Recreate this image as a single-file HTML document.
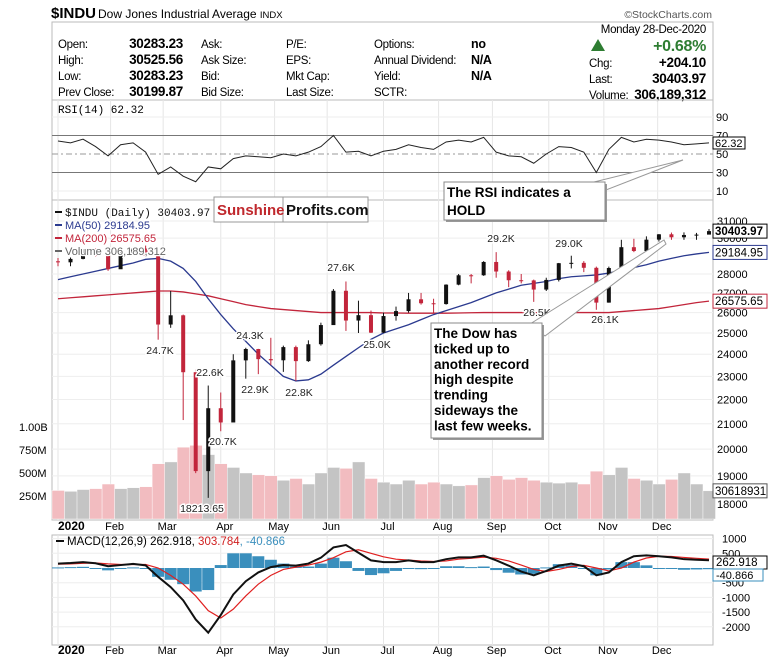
<!DOCTYPE html>
<html><head><meta charset="utf-8"><style>
body{margin:0;background:#fff;}
svg{display:block;font-family:"Liberation Sans Narrow","Liberation Sans",sans-serif;}
</style></head><body>
<svg id="c" width="768" height="662" viewBox="0 0 768 662">
<rect x="0" y="0" width="768" height="662" fill="#fff"/>
<g>
<text x="51" y="18" font-size="15" font-weight="bold">$INDU</text>
<text x="98" y="18" font-size="12">Dow Jones Industrial Average <tspan font-size="9.5">INDX</tspan></text>
<text x="712" y="18" font-size="10.5" fill="#555" text-anchor="end">©StockCharts.com</text>
<rect x="52" y="22" width="661" height="78" fill="none" stroke="#bbb"/>
<g font-size="11.5" letter-spacing="-0.3">
<text x="58" y="48">Open:</text><text x="58" y="64">High:</text><text x="58" y="80">Low:</text><text x="58" y="96">Prev Close:</text>
<g font-weight="bold" font-size="13.5" text-anchor="end"><text x="183" y="48">30283.23</text><text x="183" y="64">30525.56</text><text x="183" y="80">30283.23</text><text x="183" y="96">30199.87</text></g>
<text x="201" y="48">Ask:</text><text x="201" y="64">Ask Size:</text><text x="201" y="80">Bid:</text><text x="201" y="96">Bid Size:</text>
<text x="286" y="48">P/E:</text><text x="286" y="64">EPS:</text><text x="286" y="80">Mkt Cap:</text><text x="286" y="96">Last Size:</text>
<text x="374" y="48">Options:</text><text x="374" y="64">Annual Dividend:</text><text x="374" y="80">Yield:</text><text x="374" y="96">SCTR:</text>
<g font-weight="bold" font-size="12.5"><text x="471" y="48">no</text><text x="471" y="64">N/A</text><text x="471" y="80">N/A</text></g>
<text x="706" y="33" text-anchor="end">Monday  28-Dec-2020</text>
<path d="M591,51 L598,39 L605,51 Z" fill="#2e7d32"/>
<text x="706" y="51" text-anchor="end" font-size="16" font-weight="bold" fill="#2e7d32">+0.68%</text>
<text x="589" y="67">Chg:</text><text x="589" y="83">Last:</text><text x="589" y="99">Volume:</text>
<g font-weight="bold" font-size="13.5" text-anchor="end"><text x="706" y="67">+204.10</text><text x="706" y="83">30403.97</text><text x="706" y="99">306,189,312</text></g>
</g>
</g>
<g id="grid"></g>
<g id="rsi"></g>
<g id="price"></g>
<g id="macd"></g>
<g id="ann"></g>
</svg>
<script>
const opens=[28690,28634,28823,29348,28989,28256,29102,29398,28992,25409,25864,23186,19174,21636,21052,23719,24242,23775,23723,24331,23685,24465,25383,27111,25605,25871,25016,25827,26075,26672,26469,26428,27433,27931,27930,28654,28133,27666,27657,27174,27683,28587,28606,28335,26502,28323,29479,29263,29910,30218,30046,30179,30200];
const highs=[28870,28900,29374,29410,29150,29410,29440,29570,28992,27100,25900,23300,22600,22300,24000,24300,24250,24770,24400,24400,24650,25500,27200,27600,26600,26100,26000,26300,27000,27000,26700,27450,28000,28000,28700,29200,28200,28000,27700,27800,28600,29000,28700,28400,28400,29900,29960,30100,30230,30320,30330,30300,30526];
const lows=[28420,28420,28800,28950,28170,28300,29050,28960,24680,25250,21150,19100,18214,20700,21100,22900,23100,23500,23200,22800,23650,24400,25400,25100,25000,25000,25000,25600,26000,26400,26000,26400,27400,27500,27900,27800,27300,27500,26540,27100,27600,28300,28100,26140,26500,28300,29200,29250,29800,29900,29900,29900,30283];
const closes=[28634,28823,29348,28989,28256,29102,29398,28992,25409,25864,23186,19174,21636,21052,23719,24242,23775,23723,24331,23685,24465,25383,27111,25605,25871,25016,25827,26075,26672,26469,26428,27433,27931,27930,28654,28133,27666,27657,27174,27683,28587,28606,28335,26502,28323,29479,29263,29910,30218,30046,30179,30200,30404];
const ma50=[27700,27850,28000,28150,28300,28450,28600,28800,28850,28700,28300,27600,26700,25900,25200,24600,24000,23500,23000,22800,22850,23100,23500,23900,24300,24700,25000,25200,25400,25650,25900,26100,26300,26500,26750,27000,27200,27400,27500,27600,27750,27850,27900,27950,28050,28200,28350,28500,28700,28850,29000,29100,29185];
const ma200=[26700,26750,26800,26850,26900,26950,27000,27050,27100,27100,27050,26950,26850,26700,26550,26400,26300,26200,26150,26100,26050,26000,26000,26000,26000,26000,25980,25980,25970,25970,25970,25970,25980,25990,26000,26000,26000,26000,25990,25990,26000,26000,26000,26000,26000,26050,26100,26150,26200,26300,26400,26500,26576];
const volumes=[310,300,320,330,380,330,340,350,600,620,780,800,700,600,560,500,480,470,420,440,380,500,560,550,620,440,400,380,420,380,400,380,360,370,450,470,430,450,420,400,390,400,380,520,480,560,440,420,380,430,500,380,306];
const rsi=[64,62,66,58,48,60,62,52,28,36,26,20,36,34,45,48,47,46,50,48,52,58,70,52,53,48,53,55,60,57,55,63,65,63,68,52,48,47,40,50,58,57,52,30,55,68,63,66,65,63,60,61,62];
const macdLine=[150,170,200,160,60,100,140,90,-300,-650,-1100,-1750,-2200,-1600,-900,-450,-150,30,100,80,150,350,700,780,520,260,200,200,260,200,200,300,360,360,420,260,80,-120,-250,-100,80,150,60,-250,-150,200,400,430,400,360,300,280,263];
const signalLine=[130,140,160,170,140,120,120,120,0,-250,-550,-950,-1450,-1700,-1400,-950,-550,-250,-50,30,100,200,350,550,620,500,380,300,270,240,220,240,300,330,370,330,240,100,-50,-120,-50,50,90,0,-100,0,200,340,400,390,360,330,304];
const months=["2020","Feb","Mar","Apr","May","Jun","Jul","Aug","Sep","Oct","Nov","Dec"];
const monthIdx=[0,4.2,8.4,13,17.3,21.5,26,30.4,34.7,39.2,43.6,47.9];
const priceTicks=[31000,30000,28000,27000,26000,25000,24000,23000,22000,21000,20000,19000,18000];
const volTicks=[1000,750,500,250];
const volTickLabels=["1.00B","750M","500M","250M"];
const rsiTicks=[90,70,50,30,10];
const macdTicks=[1000,500,-500,-1000,-1500,-2000];

const NS="http://www.w3.org/2000/svg";
const X0=58,X1=709,L=52,R=713;
const xs=i=>X0+i*(X1-X0)/(closes.length-1);
const yP=p=>221+520.6*Math.log(31000/p);
const yV=v=>519-v*0.092;
const yR=v=>117+(90-v)*0.925;
const yM=v=>568-v*0.0294;
function el(tag,attrs,parent,txt){const e=document.createElementNS(NS,tag);for(const k in attrs)e.setAttribute(k,attrs[k]);if(txt!==undefined)e.textContent=txt;parent.appendChild(e);return e;}
const grid=document.getElementById('grid'),rsiG=document.getElementById('rsi'),pG=document.getElementById('price'),mG=document.getElementById('macd'),ann=document.getElementById('ann');

[[100,200],[200,520],[535,645]].forEach(([a,b])=>{el('rect',{x:L,y:a,width:R-L,height:b-a,fill:'none',stroke:'#bbb'},grid);});
monthIdx.forEach(m=>{const x=xs(m);[[100,520],[535,645]].forEach(([a,b])=>el('line',{x1:x,x2:x,y1:a,y2:b,stroke:'#e6e6e6'},grid));});
months.forEach((m,i)=>{[530,654].forEach(y=>{const t=el('text',{x:xs(monthIdx[i])+(i?4:0),y:y,'font-size':i?11:12,'font-weight':i?'normal':'bold','text-anchor':i?'middle':'start'},grid,m);

});});

rsiTicks.forEach(v=>{const y=yR(v);
if(v===70||v===30)el('line',{x1:L,x2:R,y1:y,y2:y,stroke:'#777'},rsiG);
else if(v===50)el('line',{x1:L,x2:R,y1:y,y2:y,stroke:'#999','stroke-dasharray':'6,3,2,3'},rsiG);
else el('line',{x1:L,x2:R,y1:y,y2:y,stroke:'#eee'},rsiG);
const t=el('text',{x:716,y:y+4,'font-size':11},rsiG,v);

});
const rp=el('polyline',{points:rsi.map((v,i)=>xs(i)+','+yR(v)).join(' '),fill:'none',stroke:'#222','stroke-width':1},rsiG);


el('text',{x:58,y:113,'font-size':11,'font-family':'Liberation Mono,monospace'},rsiG,'RSI(14) 62.32');
el('rect',{x:713,y:137,width:32,height:12,fill:'#fff',stroke:'#000'},rsiG);
el('text',{x:715,y:147,'font-size':11},rsiG,'62.32');

priceTicks.forEach(p=>{const y=yP(p);el('line',{x1:L,x2:R,y1:y,y2:y,stroke:'#eee'},pG);
const t=el('text',{x:717,y:y+4,'font-size':11},pG,p);

});
volTicks.forEach((v,i)=>{const t=el('text',{x:19,y:yV(v)+4,'font-size':11},pG,volTickLabels[i]);

});
volumes.forEach((v,i)=>{const up=closes[i]>=opens[i];const b=el('rect',{x:xs(i)-6,y:yV(v),width:12.5,height:519-yV(v),fill:up?'#c4c4c4':'#f2bcc0',stroke:'#fff','stroke-width':0.4},pG);

});
const m200=el('polyline',{points:ma200.map((v,i)=>xs(i)+','+yP(v)).join(' '),fill:'none',stroke:'#c2253b','stroke-width':1.3},pG);


const m50=el('polyline',{points:ma50.map((v,i)=>xs(i)+','+yP(v)).join(' '),fill:'none',stroke:'#2b3a8f','stroke-width':1.3},pG);


closes.forEach((c,i)=>{const o=opens[i],x=xs(i),up=c>=o,col=up?'#111':'#c2253b';
const w=el('line',{x1:x,x2:x,y1:yP(highs[i]),y2:yP(lows[i]),stroke:col,'stroke-width':1},pG);


const top=yP(Math.max(o,c)),bot=yP(Math.min(o,c));
const b=el('rect',{x:x-2,y:top,width:4,height:Math.max(1,bot-top),fill:col},pG);

});
const lg=[["$INDU (Daily) 30403.97","#111",216,'Liberation Mono,monospace'],["MA(50) 29184.95","#2b3a8f",229,''],["MA(200) 26575.65","#c2253b",242,''],["Volume 306,189,312","#666",255,'']];
lg.forEach(([t,c,y,f])=>{el('rect',{x:55,y:y-5,width:7,height:2,fill:c},pG);const tt=el('text',{x:65,y:y,'font-size':11,fill:c,stroke:'#fff','stroke-width':2.5,'paint-order':'stroke'},pG,t);if(f)tt.setAttribute('font-family',f);

});
[["30403.97",yP(30404),'#000',true],["29184.95",yP(29185),'#2b3a8f',false],["26575.65",yP(26576),'#c2253b',false],["30618931",yV(306),'#555',false]].forEach(([t,y,c,b])=>{el('rect',{x:713,y:y-7,width:54,height:14,fill:'#fff',stroke:c},pG);el('text',{x:715,y:y+4,'font-size':11.5,'font-weight':b?'bold':'normal'},pG,t);});
[["27.6K",341,271],["29.2K",501,242],["29.0K",569,247],["24.7K",160,354],["24.3K",250,339],["22.6K",210,376],["22.9K",255,393],["22.8K",299,396],["25.0K",377,348],["26.5K",537,316],["26.1K",605,323],["20.7K",223,445],["18213.65",202,512]].forEach(([t,x,y])=>{
const l=el('text',{x:x,y:y,'font-size':10.5,'text-anchor':'middle',fill:'#222',stroke:'#fff','stroke-width':3,'paint-order':'stroke'},pG,t);

});

macdTicks.forEach(v=>{const y=yM(v);el('line',{x1:L,x2:R,y1:y,y2:y,stroke:'#eee'},mG);el('text',{x:722,y:y+4,'font-size':11},mG,v);});
macdLine.forEach((v,i)=>{const h=v-signalLine[i];const y0=yM(0),y=yM(h);
const b=el('rect',{x:xs(i)-6,y:Math.min(y0,y),width:12,height:Math.max(1,Math.abs(y-y0)),fill:'#3a8fbd'},mG);

});
const sp=el('polyline',{points:signalLine.map((v,i)=>xs(i)+','+yM(v)).join(' '),fill:'none',stroke:'#e02020','stroke-width':1.2},mG);


const mp=el('polyline',{points:macdLine.map((v,i)=>xs(i)+','+yM(v)).join(' '),fill:'none',stroke:'#111','stroke-width':2},mG);


el('rect',{x:56,y:540,width:8,height:2,fill:'#111'},mG);
const mt=el('text',{x:67,y:545,'font-size':11.5},mG);
el('tspan',{},mt,'MACD(12,26,9) 262.918, ');el('tspan',{fill:'#d02020'},mt,'303.784');el('tspan',{fill:'#3a8fbd'},mt,', -40.866');
el('rect',{x:713,y:556,width:54,height:13,fill:'#fff',stroke:'#000'},mG);el('text',{x:716,y:566,'font-size':11.5},mG,'262.918');
el('rect',{x:713,y:569,width:50,height:12,fill:'#fff',stroke:'#3a8fbd'},mG);el('text',{x:716,y:579,'font-size':11},mG,'-40.866');

const sh=el('g',{},ann);


el('rect',{x:214,y:197,width:154,height:25,fill:'#fff',stroke:'#999'},sh);
el('line',{x1:283,x2:283,y1:197,y2:222,stroke:'#999'},sh);
el('text',{x:217,y:215,'font-size':15,'font-weight':'bold',fill:'#c0282d'},sh,'Sunshine');
el('text',{x:286,y:215,'font-size':15,'font-weight':'bold',fill:'#111'},sh,'Profits.com');
el('polygon',{points:'590,183 683,160 606,190',fill:'#fff',stroke:'#999'},ann);
const c1=el('g',{},ann);


el('rect',{x:446,y:184,width:161,height:38,fill:'#999'},c1);
el('rect',{x:444,y:182,width:161,height:38,fill:'#fff',stroke:'#888'},c1);
el('text',{x:447,y:197,'font-size':13.5,'font-weight':'bold'},c1,'The RSI indicates a');
el('text',{x:447,y:215,'font-size':13.5,'font-weight':'bold'},c1,'HOLD');
el('polygon',{points:'530,324 664,240 666,244 545,336',fill:'#fff',stroke:'#999'},ann);
const c2=el('g',{},ann);


el('rect',{x:433,y:325,width:111,height:115,fill:'#999'},c2);
el('rect',{x:431,y:323,width:111,height:115,fill:'#fff',stroke:'#888'},c2);
["The Dow has","ticked up to","another record","high despite","trending","sideways the","last few weeks."].forEach((t,i)=>el('text',{x:434,y:338+i*15.4,'font-size':13.5,'font-weight':'bold'},c2,t));
</script>
</body></html>
